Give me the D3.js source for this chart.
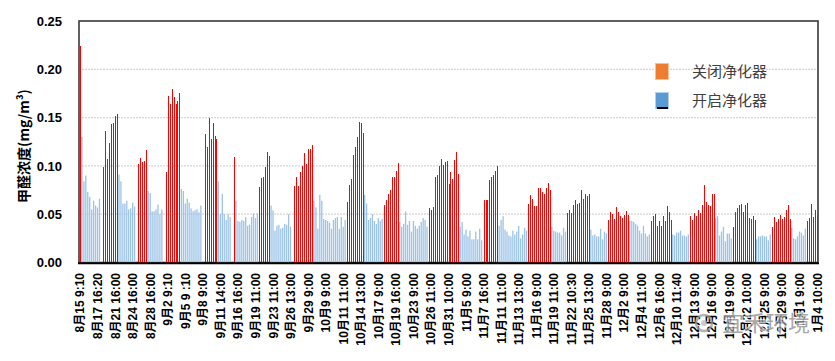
<!DOCTYPE html>
<html><head><meta charset="utf-8">
<script src="https://cdn.jsdelivr.net/npm/d3@7/dist/d3.min.js"></script>
<style>html,body{margin:0;padding:0;background:#fff}</style>
</head><body>
<svg id="chart" width="835" height="361"></svg>
<script>
const _ = null;

// 关闭净化器 (purifier off) readings, one slot per sampling time
const offSeries = [
0.224,
_,_,_,_,_, _,_,_,_,_,
_,
0.099,0.136,0.107,0.124,0.143,0.144,0.152,0.154,
_,_,_,_,_, _,_,_,_,
_,
0.102,0.108,0.104,0.105,0.116,
_,_,_,_,_, _,_,_,
_,
0.094,0.172,0.164,0.180,0.171,0.164,0.167,0.175,
_,_,_,_,_, _,_,_,_,_, _,
_,
0.133,0.120,0.150,0.128,0.144,0.131,0.128,
_,_,_,_,_, _,_,
_,
0.109,
_,_,_,_,_, _,_,_,_,_, _,_,
0.078,0.087,0.089,0.099,0.114,0.110,
_,_,_,_,_, _,_,_,_,_, _,
_,
0.079,0.088,0.079,0.094,0.100,0.113,0.102,0.118,0.118,0.122,
_,_,_,_,_, _,_,_,_,_, _,_,_,_,_, _,_,
0.063,0.080,0.086,0.111,0.120,0.130,0.145,0.144,0.134,
_,_,_,_,_, _,_,_,_,_,
0.060,0.065,0.071,0.075,0.089,0.088,0.095,0.103,
_,_,_,_,_, _,_,_,_,_, _,_,_,_,_,
0.056,0.054,0.057,0.088,0.091,0.100,0.107,0.101,0.104,0.105,0.081,0.094,0.086,0.106,0.114,0.092,
_,_,_,_,_, _,_,_,_,_, _,_,
0.065,0.065,0.065,0.085,0.089,0.091,0.095,0.100,
_,_,_,_,_, _,_,_,_,_, _,_,_,_,_,
0.061,0.070,0.066,0.059,0.059,0.077,0.077,0.073,0.071,0.077,0.082,0.075,
_,_,_,_,_, _,_,_,
0.051,0.054,0.051,0.060,0.065,0.061,0.062,0.075,0.066,0.071,0.069,0.071,
_,_,_,_,_, _,_,_,_,
0.044,0.052,0.050,0.045,0.057,0.052,0.048,0.046,0.049,0.053,0.049,
_,_,_,_,_, _,_,_,_,_, _,
0.043,0.048,0.050,0.038,0.043,0.038,0.048,0.043,0.058,0.052,0.044,
_,_,_,_,_, _,_,_,_,
0.048,0.044,0.051,0.048,0.054,0.051,0.060,0.080,0.063,0.060,0.058,0.071,0.071,
_,_,_,_,_, _,_,_,_,
0.037,0.052,0.056,0.060,0.061,0.052,0.060,0.062,0.046,0.045,0.048,0.044,
_,_,_,_,_, _,_,_,
0.037,0.047,0.042,0.045,0.049,0.045,0.047,0.054,0.060,0.045,
_,_,_,_,_, _,_,_,
0.043,0.046,0.061,0.047,0.054,0.049
];

// 开启净化器 (purifier on) readings
const onSeries = [
_,
0.130,0.084,0.090,0.073,0.068,0.055,0.064,0.059,0.057,0.066,
_,
_,_,_,_,_, _,_,_,
0.091,0.084,0.061,0.061,0.064,0.055,0.056,0.062,0.058,
_,
_,_,_,_,_,
0.074,0.072,0.053,0.053,0.055,0.060,0.050,0.055,
_,
_,_,_,_,_, _,_,_,
0.076,0.074,0.061,0.066,0.062,0.056,0.053,0.054,0.055,0.052,0.059,
_,
_,_,_,_,_, _,_,
0.084,0.050,0.071,0.050,0.044,0.050,0.047,
_,
_,
0.064,0.043,0.042,0.044,0.043,0.047,0.038,0.039,0.047,0.051,0.046,0.051,
_,_,_,_,_, _,
0.059,0.054,0.033,0.038,0.039,0.035,0.036,0.040,0.039,0.050,0.037,
_,
_,_,_,_,_, _,_,_,_,_,
0.064,0.057,0.035,0.070,0.064,0.045,0.044,0.043,0.041,0.035,0.044,0.046,0.047,0.035,0.047,0.037,0.044,
_,_,_,_,_, _,_,_,_,
0.070,0.061,0.044,0.046,0.050,0.043,0.040,0.046,0.043,0.045,
_,_,_,_,_, _,_,_,
0.042,0.037,0.040,0.053,0.039,0.043,0.032,0.043,0.038,0.035,0.038,0.042,0.046,0.044,0.037,
_,_,_,_,_, _,_,_,_,_, _,_,_,_,_, _,
0.037,0.042,0.029,0.034,0.027,0.033,0.024,0.024,0.032,0.024,0.035,0.023,
_,_,_,_,_, _,_,_,
0.038,0.044,0.048,0.034,0.032,0.028,0.027,0.033,0.029,0.032,0.038,0.025,0.029,0.036,0.033,
_,_,_,_,_, _,_,_,_,_, _,_,
0.037,0.033,0.032,0.031,0.031,0.028,0.036,0.032,
_,_,_,_,_, _,_,_,_,_, _,_,
0.034,0.028,0.029,0.027,0.027,0.035,0.024,0.032,0.030,
_,_,_,_,_, _,_,_,_,_, _,
0.043,0.043,0.042,0.040,0.038,0.033,0.030,0.038,0.030,0.027,0.029,
_,_,_,_,_, _,_,_,_,_, _,
0.029,0.028,0.031,0.031,0.033,0.028,0.028,0.027,0.029,
_,_,_,_,_, _,_,_,_,_, _,_,_,
0.046,0.048,0.028,0.032,0.037,0.022,0.030,0.030,0.025,
_,_,_,_,_, _,_,_,_,_, _,_,
0.024,0.027,0.027,0.028,0.027,0.027,0.023,0.029,
_,_,_,_,_, _,_,_,_,_,
0.036,0.025,0.024,0.027,0.032,0.031,0.028,0.035,
_,_,_,_,_, _
];

// category labels shown on the axis (every 9th sampling time)
const tickLabels = ["8月15 9:10","8月17 16:20","8月21 16:00","8月24 16:00","8月28 16:00",
"9月2 9:10","9月5 9 :10","9月8 9:00","9月11 14:00","9月16 16:00","9月19 11:00","9月23 11:00",
"9月26 13:00","9月29 9:00","10月9 9:00","10月11 11:00","10月14 13:00","10月17 9:00",
"10月19 16:00","10月23 9:00","10月26 11:00","10月31 10:00","11月5 9:00","11月7 16:00",
"11月11 11:00","11月13 13:00","11月16 9:00","11月19 11:00","11月22 10:30","11月25 13:00",
"11月28 9:00","12月2 9:00","12月4 11:00","12月6 16:00","12月10 11:40","12月13 9:00",
"12月16 9:00","12月19 9:00","12月22 10:00","12月25 9:00","12月29 9:00","1月1 9:00","1月4 10:00"];
const labelStep = 9;
const yTicks = [0, 0.05, 0.10, 0.15, 0.20, 0.25];
const legendNames = ["关闭净化器", "开启净化器"];
const yTitle = "甲醛浓度(mg/m³)";
const watermark = "宜禾环境";

const n = Math.max(offSeries.length, onSeries.length);
const cats = d3.range(n);

const svg = d3.select("#chart");
const L = 79, R = 818, T = 21, B = 262.5;
const x = d3.scaleBand().domain(cats).range([L, R]).padding(0);
const y = d3.scaleLinear().domain([0, 0.25]).range([B, T]);
const latin = "'Liberation Sans','Noto Sans CJK SC',sans-serif";
const cjk = "'Noto Sans CJK SC','Liberation Sans',sans-serif";

svg.append("rect").attr("width", 835).attr("height", 361).attr("fill", "#fff");

// grid
svg.append("g").selectAll("line").data(yTicks.filter(v => v > 0 && v < 0.25)).join("line")
  .attr("x1", L).attr("x2", R).attr("y1", d => y(d)).attr("y2", d => y(d))
  .attr("stroke", "#d6d6d6").attr("stroke-width", 1.3).attr("stroke-dasharray", "2,1");

const cx = i => x(i) + x.bandwidth() / 2;

// frame
svg.append("rect").attr("x", L).attr("y", T).attr("width", R - L).attr("height", B - T)
  .attr("fill", "none").attr("stroke", "#3a3a3a").attr("stroke-width", 1.6);

// bars: purifier on (light blue)
svg.append("g").selectAll("rect").data(cats.filter(i => onSeries[i] != null)).join("rect")
  .attr("x", i => cx(i) - 0.65).attr("width", 1.3)
  .attr("y", i => y(onSeries[i])).attr("height", i => B - y(onSeries[i]))
  .attr("fill", "#9dc3e6");

// bars: purifier off (red)
svg.append("g").selectAll("rect").data(cats.filter(i => offSeries[i] != null)).join("rect")
  .attr("x", i => Math.round(cx(i))).attr("width", 1)
  .attr("y", i => y(offSeries[i])).attr("height", i => B - y(offSeries[i]))
  .attr("fill", "#ff0000").attr("shape-rendering", "crispEdges");

svg.append("line").attr("x1", L - 1).attr("x2", R + 1).attr("y1", B + 0.8).attr("y2", B + 0.8)
  .attr("stroke", "#000").attr("stroke-width", 2);

// y axis labels
svg.append("g").selectAll("text").data(yTicks).join("text")
  .attr("x", 62).attr("y", d => y(d)).attr("dy", "0.36em").attr("text-anchor", "end")
  .attr("font-family", latin).attr("font-weight", "bold").attr("font-size", 13).attr("fill", "#000")
  .text(d => d.toFixed(2));

svg.append("text").attr("transform", "translate(29,146) rotate(-90)")
  .attr("text-anchor", "middle").attr("font-family", cjk).attr("font-weight", "bold")
  .attr("font-size", 14).attr("fill", "#000").text(yTitle);

// x axis labels
svg.append("g").selectAll("text").data(tickLabels).join("text")
  .attr("transform", (d, k) => `translate(${cx(k * labelStep) + 4.5},273) rotate(-90)`)
  .attr("text-anchor", "end")
  .attr("font-family", latin).attr("font-weight", "bold").attr("font-size", 12).attr("fill", "#000")
  .text(d => d);

// legend
const lg = svg.append("g");
const legColors = ["#ed7d31", "#5b9bd5"];
const legBorder = ["#f6c09a", "#b4d0ec"];
legendNames.forEach((name, k) => {
  const yy = 63 + k * 29;
  lg.append("rect").attr("x", 655.5).attr("y", yy + 0.5).attr("width", 13).attr("height", 16)
    .attr("fill", legColors[k]).attr("stroke", legBorder[k]).attr("stroke-width", 1);
  lg.append("text").attr("x", 692).attr("y", yy + 9).attr("dy", "0.36em")
    .attr("font-family", cjk).attr("font-size", 15).attr("fill", "#404040").text(name);
});
lg.append("rect").attr("x", 657).attr("y", 107).attr("width", 11).attr("height", 2).attr("fill", "#000");

// watermark
const wm = svg.append("g").attr("opacity", 0.75);
wm.append("circle").attr("cx", 704).attr("cy", 323).attr("r", 8)
  .attr("fill", "none").attr("stroke", "#9a9a9a").attr("stroke-width", 2.5);
wm.append("circle").attr("cx", 704).attr("cy", 323).attr("r", 3).attr("fill", "#bbb");
wm.append("text").attr("x", 722).attr("y", 331)
  .attr("font-family", cjk).attr("font-size", 22).attr("fill", "#8c8c8c")
  .attr("stroke", "#fff").attr("stroke-width", 2).attr("paint-order", "stroke").text(watermark);
</script>
</body></html>
